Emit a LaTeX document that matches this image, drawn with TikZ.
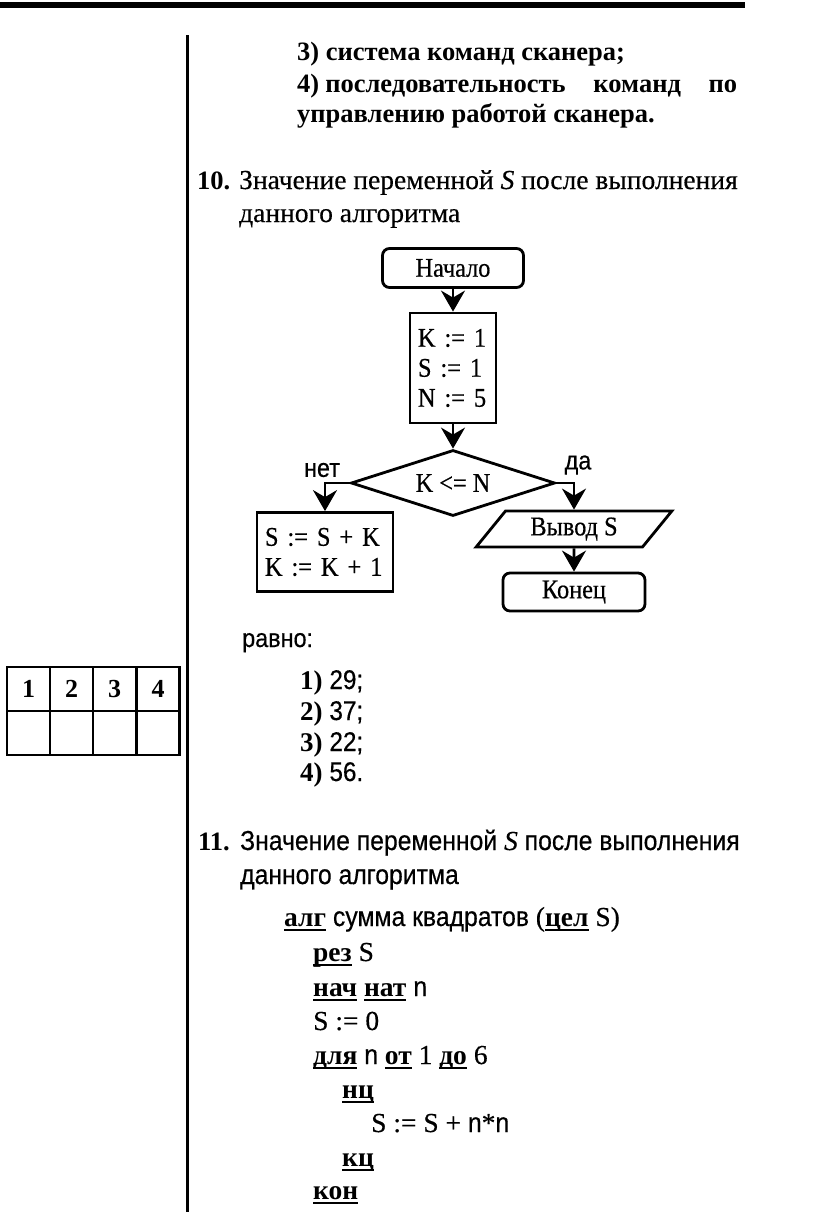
\documentclass[tikz,border=0pt]{standalone}
\usepackage{fontspec}
\setmainfont{Liberation Serif}[UprightFeatures={FakeBold=0.4},ItalicFeatures={FakeBold=0.4}]
\newfontfamily\ssf[FakeStretch=0.9,FakeBold=0.4]{Liberation Sans}
\newfontfamily\csf[FakeStretch=0.9,FakeBold=0.5]{Liberation Serif}
\usetikzlibrary{shapes.geometric,arrows.meta}
\newcommand\kw[1]{{\bfseries\setbox0\hbox{#1}\rlap{\rule[-5pt]{\wd0}{2.4pt}}\box0}}
\begin{document}
\begin{tikzpicture}[x=1pt,y=-1pt,
  txt/.style={anchor=base west, inner sep=0, font=\fontsize{27.5}{32}\selectfont},
  btxt/.style={anchor=base west, inner sep=0, font=\fontsize{26.5}{32}\selectfont\bfseries},
  stxt/.style={anchor=base west, inner sep=0, font=\fontsize{27.5}{32}\selectfont\ssf},
  code/.style={anchor=base west, inner sep=0, font=\fontsize{27.5}{32}\selectfont},
  fc/.style={draw, line width=2.8pt, font=\fontsize{27}{30}\selectfont\csf, inner sep=0},
  arr/.style={line width=2.8pt, -{Stealth[length=21pt,width=24pt,inset=7pt]}},
  lbl/.style={inner sep=0, font=\fontsize{26}{30}\selectfont\ssf},
  cell/.style={draw, line width=2.2pt, minimum width=43pt, minimum height=44pt, inner sep=0, font=\fontsize{26}{30}\selectfont\bfseries}]
\path[use as bounding box, fill=white] (0,0) rectangle (816,1218);
% rules
\draw[line width=6pt] (0,5) -- (745,5);
\draw[line width=3pt] (187,35) -- (187,1212);
% item 9 tail
\node[btxt] (a3) at (297,60) {3) система команд сканера;};
\node[btxt] (a4) at (297,92) {\makebox[440pt][s]{4)\hspace{6pt}последовательность команд по}};
\node[btxt] (a4b) at (297,122) {управлению работой сканера.};
% item 10
\node[btxt] (n10) at (197,189) {10.};
\node[txt] (q10a) at (239,189) {Значение переменной \textit{S} после выполнения};
\node[txt] (q10b) at (239,222) {данного алгоритма};
% flowchart
\node[fc, rounded corners=7pt, minimum width=141pt, minimum height=39pt] (start) at (453,268) {Начало};
\node[fc, minimum width=86pt, minimum height=110pt, text width=70pt, align=left] (init) at (453,368) {K := 1\\S := 1\\N := 5};
\node[fc, diamond, aspect=3, minimum width=204pt, minimum height=66pt] (cond) at (453,483) {K <= N};
\node[fc, minimum width=136pt, minimum height=79pt, text width=120pt, align=left] (body) at (325,552) {S := S + K\\K := K + 1};
\node[fc, trapezium, trapezium left angle=51, trapezium right angle=129, trapezium stretches=true, minimum width=196pt, minimum height=36pt] (out) at (574,529) {Вывод S};
\node[fc, rounded corners=7pt, minimum width=142pt, minimum height=38pt] (end) at (574,592) {Конец};
\node[lbl] (no) at (322,470) {нет};
\node[lbl] (yes) at (578,465) {да};
\draw[arr] (start) -- (init);
\draw[arr] (init) -- (cond);
\draw[arr] (cond.west) -| (body.north);
\draw[arr] (cond.east) -| (out.north);
\draw[arr] (out) -- (end);
% answer table
\node[cell] (c1) at (28.5,689) {1};
\node[cell] (c2) at (71.5,689) {2};
\node[cell] (c3) at (114.5,689) {3};
\node[cell] (c4) at (158,689) {4};
\node[cell] (d1) at (28.5,733) {};
\node[cell] (d2) at (71.5,733) {};
\node[cell] (d3) at (114.5,733) {};
\node[cell] (d4) at (158,733) {};
% answers
\node[stxt, font=\fontsize{26}{30}\selectfont\ssf] (eq) at (242,647) {равно:};
\node[txt, font=\fontsize{27}{30}\selectfont] (r1) at (300,689) {\textbf{1)} {\ssf 29;}};
\node[txt, font=\fontsize{27}{30}\selectfont] (r2) at (300,720) {\textbf{2)} {\ssf 37;}};
\node[txt, font=\fontsize{27}{30}\selectfont] (r3) at (300,751) {\textbf{3)} {\ssf 22;}};
\node[txt, font=\fontsize{27}{30}\selectfont] (r4) at (300,781) {\textbf{4)} {\ssf 56.}};
% item 11
\node[btxt] (n11) at (198,850) {11.};
\node[stxt] (q11a) at (240,850) {Значение переменной {\rmfamily\itshape S} после выполнения};
\node[stxt] (q11b) at (240,884) {данного алгоритма};
% algorithm
\node[code] (l1) at (284,926) {\kw{алг} {\ssf сумма квадратов} (\kw{цел} S)};
\node[code] (l2) at (313,961) {\kw{рез} S};
\node[code] (l3) at (313,996) {\kw{нач} \kw{нат} {\ssf n}};
\node[code] (l4) at (313,1030) {S := 0};
\node[code] (l5) at (313,1064) {\kw{для} {\ssf n} \kw{от} 1 \kw{до} 6};
\node[code] (l6) at (342,1098) {\kw{нц}};
\node[code] (l7) at (371,1132) {S := S + {\ssf n}*{\ssf n}};
\node[code] (l8) at (342,1166) {\kw{кц}};
\node[code] (l9) at (313,1199) {\kw{кон}};
\end{tikzpicture}
\end{document}
